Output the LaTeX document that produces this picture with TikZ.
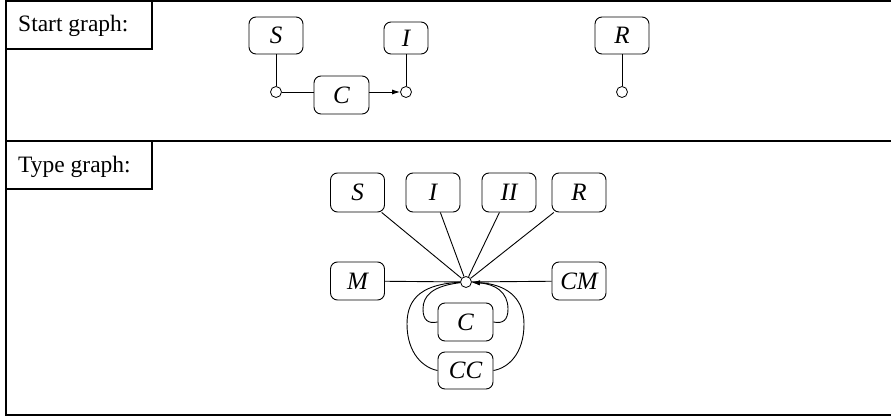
\documentclass[tikz,border=0pt]{standalone}
\usepackage{fontspec}
\setmainfont{Liberation Serif}
\usetikzlibrary{arrows.meta}
\begin{document}
\begin{tikzpicture}[x=1pt,y=-1pt,
  frame/.style={line width=1.3pt},
  lbl/.style={anchor=base west,inner sep=0pt,font=\fontsize{23.5}{27}\selectfont},
  box/.style={draw,rounded corners=7pt,line width=0.9pt,inner sep=0pt,
    minimum width=54pt,minimum height=38pt,font=\fontsize{25}{29}\selectfont\itshape},
  port/.style={draw,circle,fill=white,line width=0.8pt,inner sep=0pt,minimum size=11pt},
  edge/.style={line width=0.9pt},
  arr/.style={edge,-{Latex[length=8pt,width=5pt]}}]
\useasboundingbox (0,0) rectangle (891,417);
% frame
\draw[frame] (891,1) -- (6,1) -- (6,415) -- (891,415);
\draw[frame] (6,141) -- (891,141);
\draw[frame] (6,1) rectangle (152,49);
\draw[frame] (6,141) rectangle (152,189);
\node[lbl] (ls) at (18,32) {Start graph:};
\node[lbl] (lt) at (18,172) {Type graph:};
% start graph
\node[box,minimum height=37pt] (sS) at (276,35.5) {S};
\node[box,minimum width=44pt,minimum height=32pt] (sI) at (406,38) {I};
\node[box,minimum width=55pt] (sC) at (341.5,95) {C};
\node[box,minimum height=37pt] (sR) at (622,35.5) {R};
\node[port] (c1) at (276,92) {};
\node[port] (c2) at (406,92) {};
\node[port] (c3) at (622,92) {};
\draw[edge] (sS) -- (c1);
\draw[edge] (c1) -- (sC.west |- c1);
\draw[arr] (sC.east |- c2) -- (c2);
\draw[edge] (sI) -- (c2);
\draw[edge] (sR) -- (c3);
% type graph
\node[box,minimum height=39pt] (tS) at (357.5,192.5) {S};
\node[box,minimum height=39pt] (tI) at (433,192.5) {I};
\node[box,minimum height=39pt] (tII) at (509,192.5) {II};
\node[box,minimum height=39pt] (tR) at (579,192.5) {R};
\node[box] (tM) at (357.5,281) {M};
\node[box] (tCM) at (579,281) {CM};
\node[box,minimum width=55pt] (tC) at (465.5,322) {C};
\node[box,minimum width=55pt,minimum height=37pt] (tCC) at (465.5,370.5) {CC};
\node[port] (tc) at (466,282) {};
\draw[edge] (tS) -- (tc);
\draw[edge] (tI) -- (tc);
\draw[edge] (tII) -- (tc);
\draw[edge] (tR) -- (tc);
\draw[edge] (tM) -- (tc);
\draw[edge] (tCM) -- (tc);
\draw[edge] (tc) .. controls (432,286) and (423,296) .. (423,309) .. controls (423,320) and (428,324) .. (tC.west);
\draw[arr] (tC.east) .. controls (503,324) and (508,320) .. (508,309) .. controls (508,292) and (495,284) .. (tc);
\draw[edge] (tc) .. controls (425,284) and (407,296) .. (407,324) .. controls (407,354) and (424,368) .. (tCC.west);
\draw[arr] (tCC.east) .. controls (508,368) and (524,354) .. (524,324) .. controls (524,296) and (504,284) .. (tc);
\end{tikzpicture}
\end{document}
